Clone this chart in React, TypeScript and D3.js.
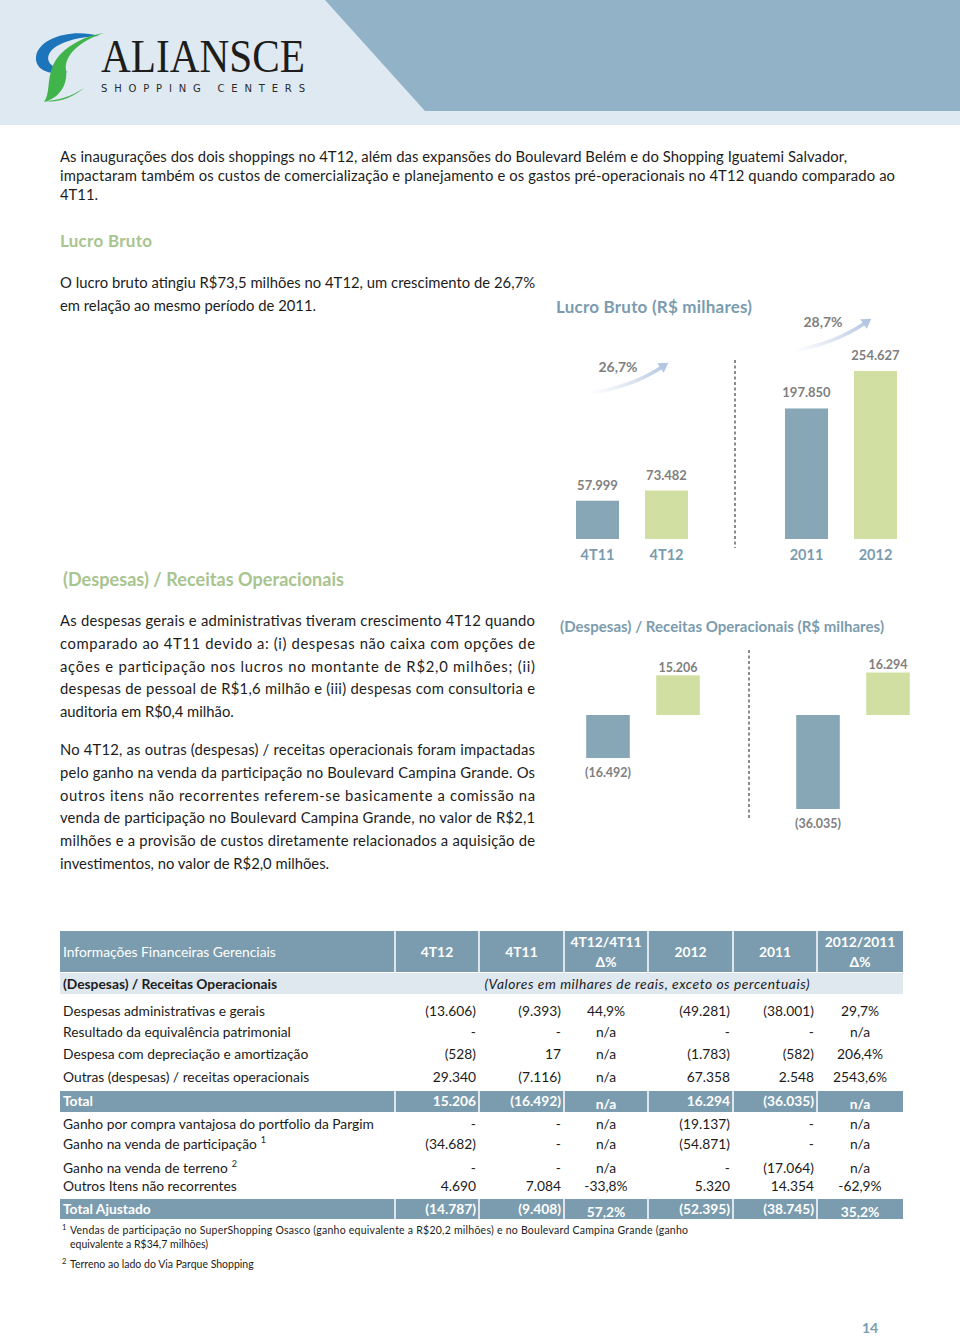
import * as d3 from "d3";

// ---- data ----
const lucroCats = ["4T11", "4T12", "2011", "2012"];
const lucroVals = [57999, 73482, 197850, 254627];
const lucroLabels = ["57.999", "73.482", "197.850", "254.627"];
const lucroGrowth = ["26,7%", "28,7%"];

const despCats = ["4T11", "4T12", "2011", "2012"];
const despVals = [-16492, 15206, -36035, 16294];
const despLabels = ["(16.492)", "15.206", "(36.035)", "16.294"];

const tableHeaders = ["4T12", "4T11", "4T12/4T11|Δ%", "2012", "2011", "2012/2011|Δ%"];
const rowsA = [
  ["Despesas administrativas e gerais", "(13.606)", "(9.393)", "44,9%", "(49.281)", "(38.001)", "29,7%"],
  ["Resultado da equivalência patrimonial", "-", "-", "n/a", "-", "-", "n/a"],
  ["Despesa com depreciação e amortização", "(528)", "17", "n/a", "(1.783)", "(582)", "206,4%"],
  ["Outras (despesas) / receitas operacionais", "29.340", "(7.116)", "n/a", "67.358", "2.548", "2543,6%"],
];
const totalRow = ["Total", "15.206", "(16.492)", "n/a", "16.294", "(36.035)", "n/a"];
const rowsB = [
  ["Ganho por compra vantajosa do portfolio da Pargim", "-", "-", "n/a", "(19.137)", "-", "n/a"],
  ["Ganho na venda de participação|1", "(34.682)", "-", "n/a", "(54.871)", "-", "n/a"],
  ["Ganho na venda de terreno|2", "-", "-", "n/a", "-", "(17.064)", "n/a"],
  ["Outros Itens não recorrentes", "4.690", "7.084", "-33,8%", "5.320", "14.354", "-62,9%"],
];
const totalAjRow = ["Total Ajustado", "(14.787)", "(9.408)", "57,2%", "(52.395)", "(38.745)", "35,2%"];

// ---- text ----
const para1 = [
  "As inaugurações dos dois shoppings no 4T12, além das expansões do Boulevard Belém e do Shopping Iguatemi Salvador,",
  "impactaram também os custos de comercialização e planejamento e os gastos pré-operacionais no 4T12 quando comparado ao",
  "4T11.",
];
const para2 = [
  "O lucro bruto atingiu R$73,5 milhões no 4T12, um crescimento de 26,7%",
  "em relação ao mesmo período de 2011.",
];
const para3 = [
  "As despesas gerais e administrativas tiveram crescimento 4T12 quando",
  "comparado ao 4T11 devido a: (i) despesas não caixa com opções de",
  "ações e participação nos lucros no montante de R$2,0 milhões; (ii)",
  "despesas de pessoal de R$1,6 milhão e (iii) despesas com consultoria e",
  "auditoria em R$0,4 milhão.",
];
const para4 = [
  "No 4T12, as outras (despesas) / receitas operacionais foram impactadas",
  "pelo ganho na venda da participação no Boulevard Campina Grande. Os",
  "outros itens não recorrentes referem-se basicamente a comissão na",
  "venda de participação no Boulevard Campina Grande, no valor de R$2,1",
  "milhões e a provisão de custos diretamente relacionados a aquisição de",
  "investimentos, no valor de R$2,0 milhões.",
];

const FONT = "Lato, 'Open Sans', sans-serif";
const TEXT = "#1c1c1c";
const STEEL = "#7b9cae";
const GREEN_HEAD = "#a8c48f";
const BAR_BLUE = "#87a6b6";
const BAR_GREEN = "#d1e0a2";
const VAL_GRAY = "#808080";

// widths: a number for every justified line, or a list (null = natural width)
const Para = ({ lines, x, y0, lh, width, size = 14.8 }) => (
  <g fontFamily={FONT} fontSize={size} fill={TEXT}>
    {lines.map((l, i) => {
      const w = Array.isArray(width) ? width[i] : i === lines.length - 1 ? null : width;
      return (
        <text key={i} x={x} y={y0 + i * lh} {...(w ? { textLength: w, lengthAdjust: "spacing" } : {})}>
          {l}
        </text>
      );
    })}
  </g>
);

const Arrow = ({ x0, y0, x1, y1, id }) => {
  const cx = (x0 + x1) / 2 + 4;
  const cy = (y0 + y1) / 2 + 8;
  const ang = Math.atan2(y1 - cy, x1 - cx);
  const hx = x1 + Math.cos(ang) * 4;
  const hy = y1 + Math.sin(ang) * 4;
  const p = (a, r) => [hx + Math.cos(ang + a) * r, hy + Math.sin(ang + a) * r];
  const [ax, ay] = p(Math.PI - 0.55, 11);
  const [bx, by] = p(Math.PI + 0.55, 11);
  return (
    <g>
      <defs>
        <linearGradient id={id} x1={x0} y1={y0} x2={x1} y2={y1} gradientUnits="userSpaceOnUse">
          <stop offset="0" stopColor="#c9d6e8" stopOpacity="0" />
          <stop offset="1" stopColor="#b3c6e2" stopOpacity="1" />
        </linearGradient>
      </defs>
      <path d={`M${x0},${y0} Q${cx},${cy} ${x1 - Math.cos(ang) * 4},${y1 - Math.sin(ang) * 4}`} fill="none" stroke={`url(#${id})`} strokeWidth={3.5} />
      <path d={`M${hx},${hy} L${ax},${ay} L${bx},${by} Z`} fill="#b3c6e2" />
    </g>
  );
};

export default function App() {
  // chart 1 scales
  const q1 = d3.scaleBand().domain(lucroCats.slice(0, 2)).range([563, 701]).paddingInner(0.377).paddingOuter(0.1885);
  const a1 = d3.scaleBand().domain(lucroCats.slice(2)).range([772, 910]).paddingInner(0.377).paddingOuter(0.1885);
  const x1 = (c) => (q1.domain().includes(c) ? q1(c) : a1(c));
  const bw1 = q1.bandwidth();
  const y1 = d3.scaleLinear().domain([0, d3.max(lucroVals)]).range([539, 371]);

  // chart 2 scales
  const q2 = d3.scaleBand().domain(despCats.slice(0, 2)).range([573, 713]).paddingInner(0.377).paddingOuter(0.1885);
  const a2 = d3.scaleBand().domain(despCats.slice(2)).range([783, 923]).paddingInner(0.377).paddingOuter(0.1885);
  const x2 = (c) => (q2.domain().includes(c) ? q2(c) : a2(c));
  const bw2 = q2.bandwidth();
  const y2 = d3.scaleLinear().domain([d3.min(despVals), 0]).range([809, 715]);

  // table layout
  const colEdges = [60, 395, 479, 564, 648, 733, 817, 903];
  const valueX = [476, 561, 606, 730, 814, 860];
  const centered = [false, false, true, false, false, true];

  const renderLabel = (s, x, y, props = {}) => {
    const [t, sup] = s.split("|");
    return (
      <text x={x} y={y} {...props}>
        {t}
        {sup && (
          <tspan dx={4} dy={-6} fontSize={9}>
            {sup}
          </tspan>
        )}
      </text>
    );
  };

  const renderRow = (r, y, key, white = false) => (
    <g key={key} fill={white ? "#fff" : TEXT} fontWeight={white ? "bold" : "normal"}>
      {renderLabel(r[0], 63, y)}
      {r.slice(1).map((v, i) => (
        <text key={i} x={valueX[i]} y={white && centered[i] ? y + 3 : y} textAnchor={centered[i] ? "middle" : "end"}>
          {v}
        </text>
      ))}
    </g>
  );

  const seps = (yTop, yBot) =>
    colEdges.slice(1, -1).map((x, i) => <line key={i} x1={x} x2={x} y1={yTop} y2={yBot} stroke="#fff" strokeWidth={1.5} />);

  const rowsAY = [1016, 1037, 1059, 1082];
  const rowsBY = [1129, 1149, 1173, 1191];

  return (
    <svg width={960} height={1338} style={{ position: "absolute", left: 0, top: 0, background: "#fff" }} fontFamily={FONT}>
      {/* header */}
      <rect x={0} y={0} width={960} height={125} fill="#dfe9f1" />
      <polygon points="325,0 960,0 960,111 425,111" fill="#92b3c7" />
      <path d="M99,36 C72,28 38,38 36,57 C35,70 50,76 68,72 C50,68 44,60 51,51 C59,42 78,37 99,36 Z" fill="#1c74bb" />
      <path d="M104,33 C82,36 58,50 52,68 C47,82 50,94 44,102 C60,98 68,84 66,70 C64,55 80,41 104,33 Z" fill="#40b34a" />
      <path d="M44,101 C58,101 72,96 84,88 C72,98 58,103 44,101 Z" fill="#40b34a" />
      <text x={101} y={72} fontFamily="'Liberation Serif', serif" fontSize={46} fill="#1d1d1b" textLength={204} lengthAdjust="spacingAndGlyphs">
        ALIANSCE
      </text>
      <text x={101} y={92} fontFamily="'DejaVu Sans', sans-serif" fontSize={10} fill="#2a2a2a" textLength={204} lengthAdjust="spacing">
        SHOPPING CENTERS
      </text>

      {/* intro */}
      <Para lines={para1} x={60} y0={162} lh={19} width={[787, 835, null]} />
      <text x={60} y={247} fontSize={17} fill={GREEN_HEAD} fontWeight="bold" textLength={92}>
        Lucro Bruto
      </text>
      <Para lines={para2} x={60} y0={288} lh={23} width={475} />

      {/* chart 1 */}
      <text x={556} y={313} fontSize={17} fill={STEEL} fontWeight="bold" textLength={196}>
        Lucro Bruto (R$ milhares)
      </text>
      <line x1={735} x2={735} y1={360} y2={548} stroke="#666" strokeWidth={1.5} strokeDasharray="3,2.5" />
      {lucroCats.map((c, i) => (
        <g key={c}>
          <rect x={x1(c)} y={y1(lucroVals[i])} width={bw1} height={y1(0) - y1(lucroVals[i])} fill={i % 2 ? BAR_GREEN : BAR_BLUE} />
          <text x={x1(c) + bw1 / 2} y={y1(lucroVals[i]) - 11} textAnchor="middle" fontSize={13} fontWeight="bold" fill={VAL_GRAY}>
            {lucroLabels[i]}
          </text>
          <text x={x1(c) + bw1 / 2} y={560} textAnchor="middle" fontSize={14.5} fontWeight="bold" fill={STEEL}>
            {c}
          </text>
        </g>
      ))}
      <Arrow id="ga1" x0={x1(lucroCats[0]) + 14} y0={393} x1={x1(lucroCats[1]) + 20} y1={365} />
      <text x={618} y={372} textAnchor="middle" fontSize={14} fontWeight="bold" fill={VAL_GRAY}>
        {lucroGrowth[0]}
      </text>
      <Arrow id="ga2" x0={x1(lucroCats[2]) + 7} y0={351} x1={x1(lucroCats[3]) + 14} y1={321} />
      <text x={823} y={327} textAnchor="middle" fontSize={14} fontWeight="bold" fill={VAL_GRAY}>
        {lucroGrowth[1]}
      </text>

      {/* section 2 */}
      <text x={63} y={586} fontSize={18} fill={GREEN_HEAD} fontWeight="bold" textLength={281}>
        (Despesas) / Receitas Operacionais
      </text>
      <Para lines={para3} x={60} y0={626} lh={22.8} width={475} />
      <Para lines={para4} x={60} y0={755} lh={22.8} width={475} />

      {/* chart 2 */}
      <text x={560} y={632} fontSize={15} fill={STEEL} fontWeight="bold" textLength={324}>
        (Despesas) / Receitas Operacionais (R$ milhares)
      </text>
      <line x1={749} x2={749} y1={650} y2={818} stroke="#666" strokeWidth={1.5} strokeDasharray="3,2.5" />
      {despCats.map((c, i) => {
        const v = despVals[i];
        const top = y2(Math.max(0, v));
        const bot = y2(Math.min(0, v));
        return (
          <g key={c}>
            <rect x={x2(c)} y={top} width={bw2} height={bot - top} fill={v < 0 ? BAR_BLUE : BAR_GREEN} />
            <text x={x2(c) + bw2 / 2} y={v < 0 ? bot + 19 : top - 3} textAnchor="middle" fontSize={12.5} fontWeight="bold" fill={VAL_GRAY}>
              {despLabels[i]}
            </text>
          </g>
        );
      })}

      {/* table */}
      <g fontSize={13.8}>
        <rect x={60} y={931} width={843} height={41} fill={STEEL} />
        {seps(931, 972)}
        <text x={63} y={957} fill="#fff">
          Informações Financeiras Gerenciais
        </text>
        {tableHeaders.map((h, i) => {
          const cx = (colEdges[i + 1] + colEdges[i + 2]) / 2;
          const parts = h.split("|");
          return parts.length === 1 ? (
            <text key={h} x={cx} y={957} textAnchor="middle" fill="#fff" fontWeight="bold">
              {h}
            </text>
          ) : (
            <g key={h} fill="#fff" fontWeight="bold">
              <text x={cx} y={947} textAnchor="middle">
                {parts[0]}
              </text>
              <text x={cx} y={967} textAnchor="middle">
                {parts[1]}
              </text>
            </g>
          );
        })}
        <rect x={60} y={973} width={843} height={21} fill="#dfe7ef" />
        <text x={63} y={989} fill={TEXT} fontWeight="bold">
          (Despesas) / Receitas Operacionais
        </text>
        <text x={647} y={989} fill={TEXT} fontStyle="italic" textAnchor="middle" textLength={325}>
          (Valores em milhares de reais, exceto os percentuais)
        </text>

        {rowsA.map((r, i) => renderRow(r, rowsAY[i], "a" + i))}
        <rect x={60} y={1091} width={843} height={21} fill={STEEL} />
        {seps(1091, 1112)}
        {renderRow(totalRow, 1106, "t", true)}
        {rowsB.map((r, i) => renderRow(r, rowsBY[i], "b" + i))}
        <rect x={60} y={1199} width={843} height={20} fill={STEEL} />
        {seps(1199, 1219)}
        {renderRow(totalAjRow, 1214, "ta", true)}
      </g>

      {/* footnotes */}
      <g fontSize={10.5} fill={TEXT}>
        <text x={62} y={1230} fontSize={7.5}>1</text>
        <text x={70} y={1234} textLength={618} lengthAdjust="spacing">
          Vendas de participação no SuperShopping Osasco (ganho equivalente a R$20,2 milhões) e no Boulevard Campina Grande (ganho
        </text>
        <text x={70} y={1248}>equivalente a R$34,7 milhões)</text>
        <text x={62} y={1264} fontSize={7.5}>2</text>
        <text x={70} y={1268}>Terreno ao lado do Via Parque Shopping</text>
      </g>

      <text x={870} y={1333} textAnchor="middle" fontSize={14} fontWeight="bold" fill={STEEL}>
        14
      </text>
    </svg>
  );
}
